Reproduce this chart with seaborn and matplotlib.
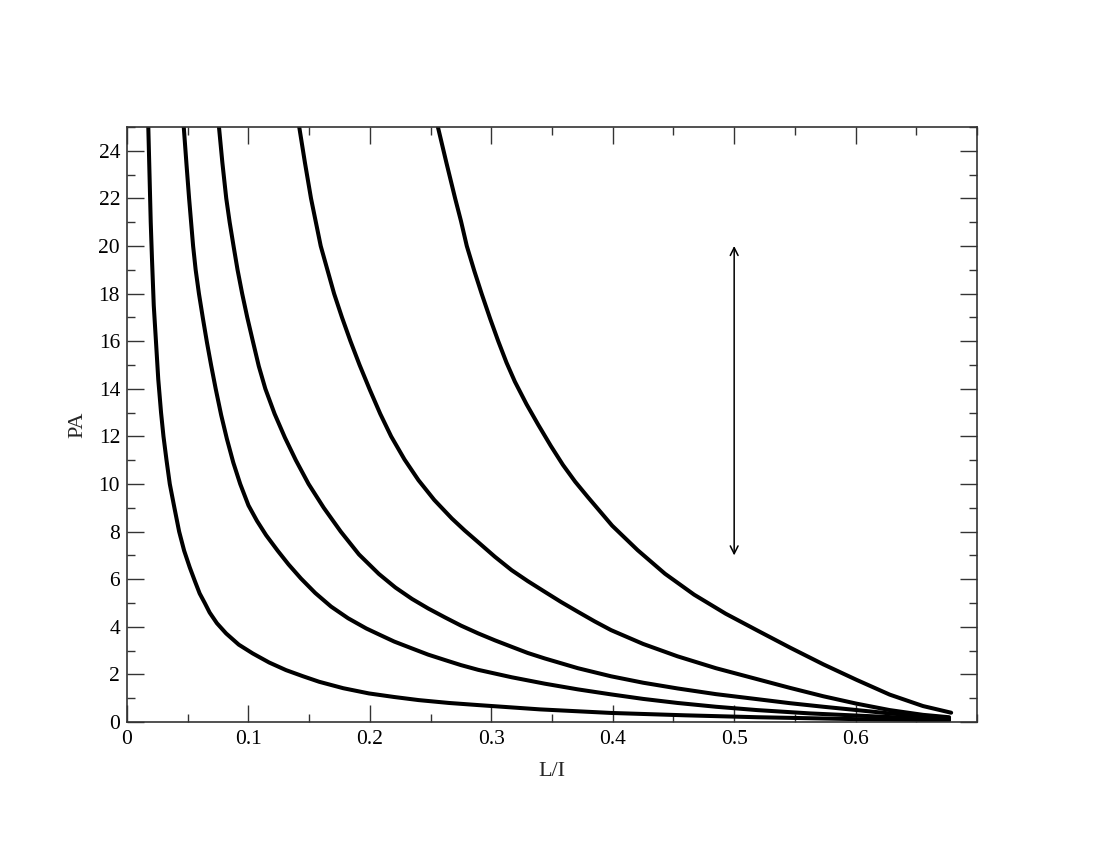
import matplotlib
matplotlib.use("Agg")
import matplotlib.pyplot as plt
from matplotlib.ticker import MultipleLocator, FixedLocator
import seaborn as sns
import pandas as pd

# curves, left to right (L/I, PA)
x1 = [0.0175, 0.0185, 0.0195, 0.0205, 0.0220, 0.0238, 0.0257, 0.0280, 0.0300, 0.0325,
      0.0352, 0.0390, 0.0429, 0.0470, 0.0516, 0.0560, 0.0598, 0.0640, 0.0680, 0.0740,
      0.0816, 0.0920, 0.1035, 0.1170, 0.1309, 0.1450, 0.1582, 0.1780, 0.1992, 0.2200,
      0.2402, 0.2650, 0.2893, 0.3400, 0.3986, 0.4600, 0.5189, 0.6008, 0.6770]
y1 = [25, 23, 21, 19.5, 17.5, 16, 14.4, 13, 12, 11,
      10, 9, 8, 7.2, 6.5, 5.9, 5.4, 5.0, 4.6, 4.15,
      3.72, 3.25, 2.88, 2.5, 2.18, 1.92, 1.69, 1.42, 1.20, 1.05,
      0.92, 0.80, 0.71, 0.53, 0.38, 0.28, 0.20, 0.12, 0.07]

x2 = [0.0467, 0.0490, 0.0511, 0.0544, 0.0565, 0.0592, 0.0625, 0.0658, 0.0692, 0.0730,
      0.0775, 0.0822, 0.0875, 0.0932, 0.1000, 0.1070, 0.1145, 0.1240, 0.1330, 0.1432,
      0.1550, 0.1680, 0.1820, 0.1970, 0.2074, 0.2200, 0.2347, 0.2480, 0.2620, 0.2750,
      0.2893, 0.3167, 0.3440, 0.3713, 0.3986, 0.4250, 0.4533, 0.4850, 0.5189, 0.5626,
      0.6008, 0.6400, 0.6770]
y2 = [25, 23.4, 22, 20, 19, 18, 16.95, 15.95, 15, 14,
      12.9, 11.9, 10.9, 10.0, 9.1, 8.45, 7.85, 7.2, 6.62, 6.03,
      5.42, 4.85, 4.36, 3.93, 3.68, 3.38, 3.09, 2.83, 2.60, 2.39,
      2.19, 1.88, 1.61, 1.37, 1.16, 0.97, 0.80, 0.64, 0.50, 0.36,
      0.27, 0.18, 0.11]

x3 = [0.0757, 0.0785, 0.0817, 0.0845, 0.0877, 0.0910, 0.0948, 0.0990, 0.1036, 0.1085,
      0.1139, 0.1215, 0.1300, 0.1390, 0.1495, 0.1620, 0.1760, 0.1910, 0.2074, 0.2210,
      0.2347, 0.2480, 0.2620, 0.2750, 0.2893, 0.3030, 0.3167, 0.3300, 0.3440, 0.3713,
      0.3986, 0.4250, 0.4533, 0.4850, 0.5189, 0.5460, 0.5735, 0.6010, 0.6281, 0.6520,
      0.6770]
y3 = [25, 23.5, 22, 21, 20, 19, 18, 17, 16, 14.95,
      14, 12.95, 11.95, 11, 10, 9, 8, 7.04, 6.22, 5.65,
      5.17, 4.77, 4.39, 4.05, 3.72, 3.43, 3.16, 2.90, 2.67, 2.26,
      1.92, 1.65, 1.41, 1.17, 0.96, 0.79, 0.64, 0.50, 0.36, 0.26,
      0.16]

x4 = [0.1418, 0.1465, 0.1515, 0.1555, 0.1595, 0.1650, 0.1705, 0.1770, 0.1840, 0.1915,
      0.2000, 0.2085, 0.2175, 0.2285, 0.2400, 0.2530, 0.2675, 0.2780, 0.2893, 0.3030,
      0.3167, 0.3300, 0.3440, 0.3575, 0.3713, 0.3850, 0.3986, 0.4250, 0.4533, 0.4850,
      0.5189, 0.5462, 0.5735, 0.6008, 0.6281, 0.6555, 0.6770]
y4 = [25, 23.5, 22, 21, 20, 19, 18, 17, 16, 15,
      13.95, 12.95, 12, 11.03, 10.16, 9.33, 8.55, 8.05, 7.55, 6.94,
      6.38, 5.92, 5.47, 5.04, 4.63, 4.23, 3.86, 3.28, 2.76, 2.26,
      1.80, 1.43, 1.08, 0.77, 0.50, 0.30, 0.20]

x5 = [0.2560, 0.2630, 0.2702, 0.2750, 0.2798, 0.2860, 0.2920, 0.2990, 0.3057, 0.3125,
      0.3194, 0.3290, 0.3385, 0.3490, 0.3590, 0.3690, 0.3795, 0.3995, 0.4205, 0.4430,
      0.4670, 0.4930, 0.5200, 0.5462, 0.5735, 0.6008, 0.6281, 0.6555, 0.6787]
y5 = [25, 23.5, 22, 21.05, 20, 18.95, 18, 16.95, 16, 15.1,
      14.3, 13.35, 12.5, 11.6, 10.8, 10.1, 9.45, 8.25, 7.22, 6.23,
      5.35, 4.55, 3.82, 3.12, 2.42, 1.77, 1.15, 0.67, 0.39]

xticks = [0, 0.1, 0.2, 0.3, 0.4, 0.5, 0.6]
xtick_labels = ["0", "0.1", "0.2", "0.3", "0.4", "0.5", "0.6"]
yticks = list(range(0, 25, 2))

arrow_x = 0.5
arrow_y = (7, 20)

frames = []
for i, (xs, ys) in enumerate([(x1, y1), (x2, y2), (x3, y3), (x4, y4), (x5, y5)]):
    frames.append(pd.DataFrame({"L/I": xs, "PA": ys, "curve": i}))
df = pd.concat(frames, ignore_index=True)

sns.set_style("ticks")
plt.rcParams["font.family"] = ["Liberation Serif", "DejaVu Serif"]

fig = plt.figure(figsize=(11, 8.5), dpi=100)
ax = fig.add_axes([0.1155, 0.1506, 0.7727, 0.7])

sns.lineplot(data=df, x="L/I", y="PA", units="curve", estimator=None,
             color="black", linewidth=2.9, sort=False, ax=ax)

ax.annotate("", xy=(arrow_x, arrow_y[1]), xytext=(arrow_x, arrow_y[0]),
            arrowprops=dict(arrowstyle="<->", color="black", lw=1.1,
                            mutation_scale=14, shrinkA=0, shrinkB=0))

ax.set_xlim(0, 0.7)
ax.set_ylim(0, 25)
ax.xaxis.set_major_locator(FixedLocator(xticks))
ax.set_xticklabels(xtick_labels)
ax.xaxis.set_minor_locator(MultipleLocator(0.05))
ax.yaxis.set_major_locator(FixedLocator(yticks))
ax.yaxis.set_minor_locator(MultipleLocator(1))

ax.tick_params(which="both", direction="in", top=True, right=True,
               width=1.0, colors="#333333", labelcolor="black", labelsize=15.5)
ax.tick_params(which="major", length=12)
ax.tick_params(axis="x", which="major", pad=6)
ax.tick_params(axis="y", which="major", pad=5)
ax.tick_params(which="minor", length=6)
for spine in ax.spines.values():
    spine.set_linewidth(1.2)
    spine.set_edgecolor("#333333")

ax.set_xlabel("L/I", fontsize=16, labelpad=9)
ax.set_ylabel("PA", fontsize=16, labelpad=8)

fig.savefig("out.png", dpi=100, facecolor="white")
